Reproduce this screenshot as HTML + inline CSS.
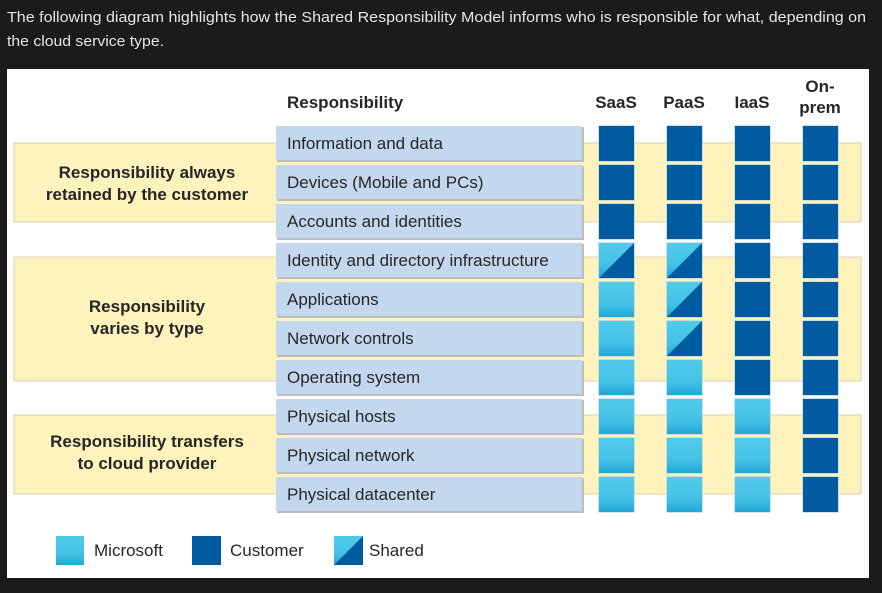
<!DOCTYPE html>
<html><head><meta charset="utf-8"><style>
html,body{margin:0;padding:0;background:#1b1b1b;width:882px;height:593px;overflow:hidden}
svg{display:block}
</style></head><body>
<svg width="882" height="593" viewBox="0 0 882 593" xmlns="http://www.w3.org/2000/svg" font-family="'Liberation Sans', sans-serif">
<defs>
<linearGradient id="ms" x1="0" y1="0" x2="0" y2="1"><stop offset="0" stop-color="#52cbea"/><stop offset="0.6" stop-color="#45c2e6"/><stop offset="1" stop-color="#22a8d4"/></linearGradient>
</defs>
<text x="7" y="22" fill="#e6e6e6" font-size="15" textLength="859" lengthAdjust="spacingAndGlyphs">The following diagram highlights how the Shared Responsibility Model informs who is responsible for what, depending on</text>
<text x="7" y="46" fill="#e6e6e6" font-size="15" textLength="157" lengthAdjust="spacingAndGlyphs">the cloud service type.</text>
<rect x="7" y="69" width="862" height="509" fill="#fff"/>
<rect x="14" y="143" width="847" height="79" fill="#fff3bd" stroke="#d8d2b4" stroke-width="1"/>
<rect x="14" y="257" width="847" height="124" fill="#fff3bd" stroke="#d8d2b4" stroke-width="1"/>
<rect x="14" y="415" width="847" height="79" fill="#fff3bd" stroke="#d8d2b4" stroke-width="1"/>
<g font-weight="bold" font-size="17" fill="#262626" text-anchor="middle">
<text x="147" y="178">Responsibility always</text>
<text x="147" y="200">retained by the customer</text>
<text x="147" y="312">Responsibility</text>
<text x="147" y="334">varies by type</text>
<text x="147" y="447">Responsibility transfers</text>
<text x="147" y="469">to cloud provider</text>
<text x="616" y="108">SaaS</text>
<text x="684" y="108">PaaS</text>
<text x="752" y="108">IaaS</text>
<text x="820" y="92">On-</text>
<text x="820" y="113">prem</text>
</g>
<text x="287" y="108" font-weight="bold" font-size="17" fill="#262626">Responsibility</text>
<g font-size="17" fill="#262626">
<text x="94" y="556">Microsoft</text>
<text x="230" y="556">Customer</text>
<text x="369" y="556">Shared</text>
</g>
<rect x="56" y="536" width="28" height="29" fill="url(#ms)"/>
<rect x="192" y="536" width="29" height="29" fill="#005ba1"/>
<rect x="334" y="536" width="29" height="29" fill="url(#ms)"/>
<polygon points="363,536 363,565 334,565" fill="#005ba1"/>
<script>
var labels=["Information and data","Devices (Mobile and PCs)","Accounts and identities","Identity and directory infrastructure","Applications","Network controls","Operating system","Physical hosts","Physical network","Physical datacenter"];
var codes=["CCCC","CCCC","CCCC","XXCC","MXCC","MXCC","MMCC","MMMC","MMMC","MMMC"];
var xs=[599,667,735,803];var ns="http://www.w3.org/2000/svg";var svg=document.querySelector("svg");
function el(t,a){var e=document.createElementNS(ns,t);for(var k in a)e.setAttribute(k,a[k]);svg.appendChild(e);return e;}
for(var i=0;i<10;i++){var y=126+39*i;
el("rect",{x:277,y:y+1,width:307,height:35,fill:"#bdbdbd"});
el("rect",{x:276,y:y,width:306,height:34,fill:"#c3d8ee"});
var t=el("text",{x:287,y:y+23,"font-size":17,fill:"#262626"});t.textContent=labels[i];
for(var j=0;j<4;j++){var c=codes[i][j],x=xs[j];
el("rect",{x:x-0.5,y:y-0.5,width:36,height:36,fill:"#9cc6e6"});
if(c=="C")el("rect",{x:x,y:y,width:35,height:35,fill:"#005ba1"});
else{el("rect",{x:x,y:y,width:35,height:35,fill:"url(#ms)"});
if(c=="X")el("polygon",{points:(x+35)+","+y+" "+(x+35)+","+(y+35)+" "+x+","+(y+35),fill:"#005ba1"});}
}}
</script>
</svg>
</body></html>
